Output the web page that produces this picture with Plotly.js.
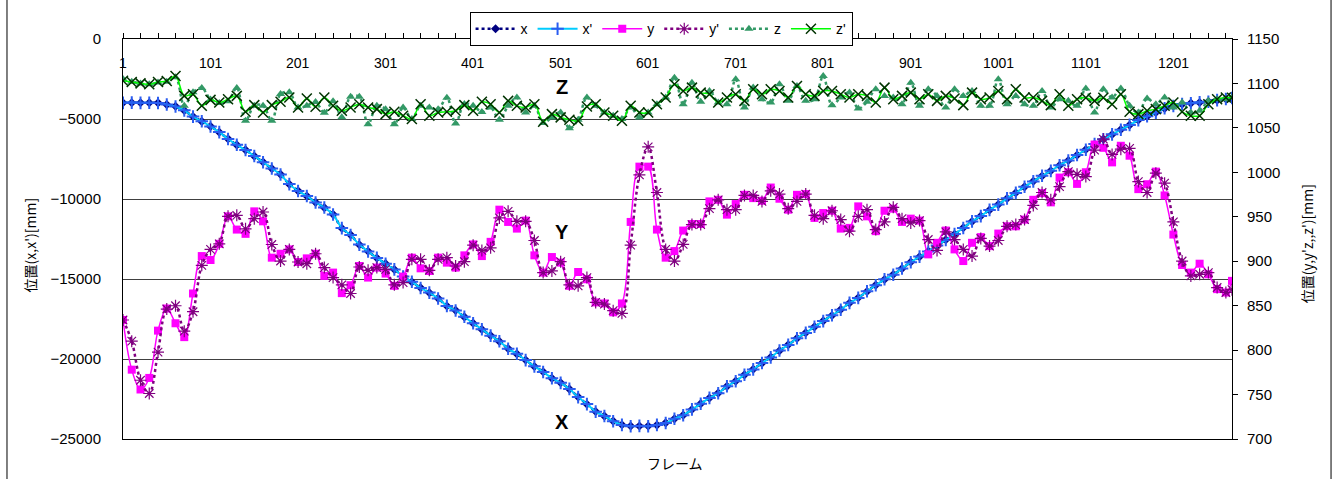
<!DOCTYPE html>
<html>
<head>
<meta charset="utf-8">
<script src="https://cdn.plot.ly/plotly-3.0.1.min.js"></script>
<style>
html,body{margin:0;padding:0;background:#fff;}
#chart{width:1335px;height:479px;}
</style>
</head>
<body>
<div id="chart"></div>
<script>
// frame numbers (category positions)
const frames = [];
for (let f = 1; f <= 1261; f += 10) frames.push(f);
frames.push(1268);

const xTickVals = [1, 101, 201, 301, 401, 501, 601, 701, 801, 901, 1001, 1101, 1201];
const xTickText = ["1", "101", "201", "301", "401", "501", "601", "701", "801", "901", "1001", "1101", "1201"];

// left axis series
const xVals = [
  -3980, -3980, -3985, -3985, -3990, -4100, -4200, -4470, -4840, -5150,
  -5460, -5830, -6240, -6620, -6930, -7320, -7690, -8100, -8460, -9080,
  -9490, -9820, -10210, -10540, -10960, -11830, -12240, -12860, -13270, -13690,
  -14040, -14410, -14830, -15180, -15550, -15860, -16210, -16690,
  -16960, -17370, -17760, -18150, -18530, -18900, -19350, -19680, -20060, -20470,
  -20800, -21210, -21480, -21880, -22370, -22830, -23280, -23570, -23880, -24110,
  -24190, -24190, -24190, -24130, -23990, -23740, -23510, -23160, -22790, -22440,
  -22130, -21710, -21380, -20990, -20640, -20260, -19890, -19480, -19110, -18710,
  -18360, -17990, -17620, -17280, -16910, -16500, -16170, -15780, -15380, -15030,
  -14720, -14350, -13940, -13610, -13270, -12920, -12550, -12200, -11800, -11410,
  -11060, -10690, -10340, -9970, -9610, -9240, -8890, -8560, -8230, -7900,
  -7590, -7260, -6910, -6580, -6260, -5970, -5660, -5380, -5060, -4840,
  -4590, -4340, -4180, -4070, -4010, -3970, -3910, -3830, -3740, -3700
];
const xPrimeVals = [
  -3990, -3975, -3990, -3980, -4000, -4090, -4220, -4460, -4850, -5140,
  -5470, -5820, -6250, -6610, -6940, -7310, -7700, -8090, -8470, -9070,
  -9500, -9810, -10220, -10530, -10970, -11820, -12250, -12850, -13280, -13680,
  -14050, -14400, -14840, -15170, -15560, -15850, -16220, -16680,
  -16970, -17360, -17770, -18140, -18540, -18890, -19360, -19670, -20070, -20460,
  -20810, -21200, -21490, -21870, -22380, -22820, -23290, -23560, -23890, -24120,
  -24200, -24180, -24200, -24120, -24000, -23730, -23520, -23150, -22800, -22430,
  -22140, -21700, -21390, -20980, -20650, -20250, -19900, -19470, -19120, -18700,
  -18370, -17980, -17630, -17270, -16920, -16490, -16180, -15770, -15390, -15020,
  -14730, -14340, -13950, -13600, -13280, -12910, -12560, -12190, -11810, -11400,
  -11070, -10680, -10350, -9960, -9620, -9230, -8900, -8550, -8240, -7890,
  -7600, -7250, -6920, -6570, -6270, -5960, -5670, -5370, -5070, -4830,
  -4600, -4330, -4190, -4060, -4020, -3960, -3920, -3820, -3750, -3690
];

// right axis series
const yVals = [
  833.9, 778, 755.7, 768.7, 821.9, 846.8, 830.2, 814.6, 863.7, 905.8,
  901.4, 919.6, 950.5, 935.6, 930.8, 956.1, 944.9, 904, 908.4, 913.3,
  899.1, 903.2, 908.4, 883.5, 887.2, 864.1, 873, 894.6, 881.6, 892.8,
  886.1, 872.3, 882.7,
  904, 892, 889, 904, 898.4, 892.8, 906.6, 918.9, 905.8, 921.8,
  958, 944.2, 936.7, 945.7, 906.6, 887.2, 904.7, 898.4, 872.3, 887.9,
  879.7, 853.7, 852.5, 842.5, 852.5, 944.2, 1006.4, 1006.4, 935.6, 904,
  911.4, 934.5,
  941.9, 941.9, 967.3, 969.1, 952.4, 964.3, 974.7, 971, 968, 982.9,
  970.3, 958, 974.7, 975.5, 948.7, 954.2, 956.8, 936.7, 937.5, 961.7,
  950.5, 933.8, 956.8, 959.1, 944.2, 947.9, 945.7, 907.7, 920.7, 934.5,
  913.3, 900.2,
  920.7, 927.1, 917, 931.1, 939.3, 939.3, 946.8, 969.1, 976.6, 966.2,
  994.1, 1000.1, 987, 1000.1, 1031.3, 1027.6, 1011.2, 1029.9, 1018.7, 981.1,
  986.6, 1000.8, 974, 930, 895.8, 887.2, 897.2, 885.3, 868.6, 864.8,
  877.9
];
const yPrimeVals = [
  833.9, 810.1, 766.1, 751.2, 797.8, 846.2, 849.9, 821.3, 843.2, 895.4,
  913.3, 919.6, 950.5, 951.6, 936.4, 947.9, 955.4, 918.8, 900.2, 913.3,
  899.1, 897.2, 908.4, 892.8, 881.6, 873.4, 863.7, 893.5, 889.8, 892.8,
  890.9, 873.4, 876,
  902.1, 902.1, 889.8, 902.1, 904, 894.6, 899.5, 918.1, 912.2, 915.1,
  948.7, 956.1, 944.9, 944.9, 923.3, 887.2, 889.1, 899.5, 873.4, 872.3,
  881.6, 853.7, 851.8, 844.4, 841.4, 918.1, 997.1, 1028.7, 977.3, 913.3,
  900.2, 918.9,
  941.2, 941.2, 959.1, 969.1, 958, 958, 974, 974, 967.3, 979.2,
  975.5, 959.1, 967.3, 975.5, 951.6, 947.9, 956.8, 946.8, 933.8, 950.5,
  958, 935.6, 944.2, 960.6, 947.9, 943.1, 945.7, 924.4, 912.2, 933,
  924.4, 913.3,
  905.8, 925.6, 917, 923.3, 939.3, 941.2, 946.8, 962.8, 977.3, 969.1,
  984, 1000.8, 997.8, 995.2, 1025, 1037.3, 1020.2, 1026.1, 1026.9, 989.6,
  977.3, 999, 987.8, 944.2, 900.2, 883.5, 885.3, 887.2, 870.4, 864.8,
  868
];
const zVals = [
  1105, 1102, 1100, 1099, 1101, 1102, 1107, 1075, 1090, 1095,
  1082, 1078, 1080, 1095, 1058, 1075, 1075, 1058, 1088, 1090,
  1073, 1075, 1079, 1067, 1080, 1062, 1085, 1085, 1054, 1075,
  1071, 1054, 1073, 1060, 1075, 1073, 1071, 1084, 1055, 1077,
  1075, 1068, 1073,
  1059.2, 1074.8, 1084.1, 1067.4, 1074.8, 1055.5, 1061.8, 1067.4, 1049.5, 1059.2,
  1084.1, 1074.8, 1067.4, 1063.7, 1059.9, 1073, 1061.8, 1067.4, 1076.7, 1084.1,
  1106.5, 1076.7, 1100.9, 1079.3, 1091.6, 1078.5, 1076.7, 1104.6, 1073, 1095.3,
  1082.3, 1078.5, 1099, 1080.4, 1097.1, 1080.4, 1082.3, 1108.3, 1075.6, 1084.1,
  1089.7, 1071.8, 1079.3,
  1093.4, 1086, 1084.1, 1076.7, 1100.9, 1074.8, 1093.4, 1086, 1073, 1093.4,
  1086, 1091.6, 1074.8, 1074.8, 1104.6, 1076.7, 1086, 1076.7, 1074.8, 1091.6,
  1073, 1082.3, 1080.4, 1074.8, 1094.2, 1067.4, 1093.4, 1084.1, 1094.2, 1074.8,
  1067.4, 1083, 1076.7, 1084.1, 1073, 1078.5, 1067.4, 1069.2, 1080.4, 1082.3,
  1082.3, 1084
];
const zPrimeVals = [
  1103, 1101.6, 1100.1, 1099, 1101.6, 1102.7, 1108.3, 1086, 1087.8, 1074.8,
  1081.5, 1078.5, 1082.3, 1086, 1068.1, 1075.6, 1067.4, 1075.6, 1079.3, 1084.1,
  1073, 1083, 1073.7, 1084.1, 1074.8, 1069.2, 1073, 1076.7, 1073, 1071.1,
  1065.5, 1068.1, 1063.7, 1059.9, 1076.7, 1063.7, 1067.4, 1068.1, 1069.2, 1075.6,
  1069.2, 1079.3, 1076.7,
  1067.4, 1080.4, 1074.8, 1073, 1076.7, 1057, 1065.5, 1061.8, 1059.2, 1058,
  1074.1, 1076.7, 1067.4, 1063.7, 1058, 1074.8, 1067.4, 1067.4, 1076.7, 1084.1,
  1099, 1091.6, 1095.3, 1089.7, 1087.8, 1078.5, 1084.1, 1087.8, 1080.4, 1093.4,
  1087.8, 1093.4, 1091.6, 1084.1, 1097.1, 1087.8, 1086, 1091.6, 1091.6, 1087.8,
  1084.1, 1087.8, 1086,
  1078.5, 1095.3, 1082.3, 1086, 1089.7, 1082.3, 1087.8, 1080.4, 1086, 1083,
  1075.6, 1089.7, 1082.3, 1084.1, 1091.6, 1082.3, 1093.4, 1084.1, 1084.1, 1080.4,
  1075.6, 1087.8, 1074.8, 1082.3, 1084, 1080.4, 1084, 1076.7, 1087.8, 1068.1,
  1065.5, 1069.2, 1071.1, 1074.8, 1078.5, 1068.1, 1063.7, 1063.7, 1076.7, 1082.3,
  1084.1, 1084
];

const seriesNames = ["x", "x'", "y", "y'", "z", "z'"];
const leftTitle = "位置(x,x')[mm]";
const rightTitle = "位置(y,y'z,,z')[mm]";
const xTitle = "フレーム";
const curveLabels = ["Z", "Y", "X"];

const tickFont = {family: "Liberation Sans, Arial, sans-serif", size: 15, color: "#000"};
const xTickFont = {family: "Liberation Sans, Arial, sans-serif", size: 14, color: "#000"};
const cjkFont = {family: "Noto Sans CJK JP, sans-serif", size: 14, color: "#000"};
const boldFont = {family: "Liberation Sans, Arial, sans-serif", size: 20, color: "#000", weight: "bold"};

const traces = [
  {x: frames, y: xVals, name: seriesNames[0], yaxis: "y", mode: "lines+markers",
   line: {color: "#000080", width: 2.5, dash: "dot", shape: "spline"},
   marker: {symbol: "diamond", size: 7, color: "#000080"}},
  {x: frames, y: xPrimeVals, name: seriesNames[1], yaxis: "y", mode: "lines+markers",
   line: {color: "#00ccff", width: 2, shape: "spline"},
   marker: {symbol: "cross-thin-open", size: 9, color: "#2a5cf0", line: {width: 2}}},
  {x: frames, y: yVals, name: seriesNames[2], yaxis: "y2", mode: "lines+markers",
   line: {color: "#ff00ff", width: 1.5, shape: "spline"},
   marker: {symbol: "square", size: 8, color: "#ff00ff"}},
  {x: frames, y: yPrimeVals, name: seriesNames[3], yaxis: "y2", mode: "lines+markers",
   line: {color: "#800080", width: 2.5, dash: "dot", shape: "spline"},
   marker: {symbol: "asterisk-open", size: 10, color: "#800080", line: {width: 1.2}}},
  {x: frames, y: zVals, name: seriesNames[4], yaxis: "y2", mode: "lines+markers",
   line: {color: "#339966", width: 2.5, dash: "dot", shape: "spline"},
   marker: {symbol: "triangle-up", size: 8, color: "#339966"}},
  {x: frames, y: zPrimeVals, name: seriesNames[5], yaxis: "y2", mode: "lines+markers",
   line: {color: "#00ff00", width: 1.5, shape: "spline"},
   marker: {symbol: "x-thin-open", size: 10, color: "#003300", line: {width: 1.5}}}
];

const annotations = [];
xTickVals.forEach((v, i) => {
  annotations.push({text: xTickText[i], xref: "x", yref: "paper", x: v, y: 0.9404,
    showarrow: false, xanchor: "center", yanchor: "middle", font: xTickFont});
});
annotations.push(
  {text: curveLabels[0], xref: "paper", yref: "paper", x: 0.396, y: 0.881, xanchor: "center", yanchor: "middle", showarrow: false, font: boldFont},
  {text: curveLabels[1], xref: "paper", yref: "paper", x: 0.396, y: 0.5186, xanchor: "center", yanchor: "middle", showarrow: false, font: boldFont},
  {text: curveLabels[2], xref: "paper", yref: "paper", x: 0.396, y: 0.042, xanchor: "center", yanchor: "middle", showarrow: false, font: boldFont},
  {text: xTitle, xref: "paper", yref: "paper", x: 0.4977, y: -0.0596, xanchor: "center", yanchor: "middle", showarrow: false, font: cjkFont},
  {text: leftTitle, xref: "paper", yref: "paper", x: -0.0843, y: 0.485, xanchor: "center", yanchor: "middle", textangle: -90, showarrow: false, font: cjkFont},
  {text: rightTitle, xref: "paper", yref: "paper", x: 1.0676, y: 0.489, xanchor: "center", yanchor: "middle", textangle: -90, showarrow: false, font: cjkFont}
);

const layout = {
  width: 1335, height: 479,
  margin: {l: 123, r: 103, t: 36, b: 40, pad: 0},
  paper_bgcolor: "#fff", plot_bgcolor: "#fff",
  showlegend: true,
  legend: {
    orientation: "h", x: 0.3125, xanchor: "left", y: 1.067, yanchor: "top",
    bgcolor: "#fff", bordercolor: "#000", borderwidth: 1,
    font: {family: "Liberation Sans, Arial, sans-serif", size: 14, color: "#000"},
    itemwidth: 40, tracegroupgap: 0
  },
  xaxis: {
    range: [1, 1268], side: "top", showgrid: false, zeroline: false,
    showline: true, linecolor: "#000", linewidth: 1, mirror: true,
    tickmode: "array", tickvals: xTickVals, showticklabels: false,
    ticks: "outside", ticklen: 5, tickcolor: "#000",
    minor: {tick0: 1, dtick: 20, ticks: "outside", ticklen: 5, tickcolor: "#000", showgrid: false}
  },
  yaxis: {
    range: [-25000, 0], dtick: 5000, tick0: 0, tickformat: "d",
    showgrid: true, gridcolor: "#404040", gridwidth: 1, zeroline: false,
    showline: true, linecolor: "#000", linewidth: 1,
    ticks: "", ticklabelstandoff: 18, tickfont: tickFont
  },
  yaxis2: {
    range: [700, 1150], dtick: 50, tick0: 700, overlaying: "y", side: "right",
    showgrid: false, zeroline: false, showline: true, linecolor: "#000", linewidth: 1,
    ticks: "outside", ticklen: 5, tickcolor: "#000", ticklabelstandoff: 6, tickfont: tickFont
  },
  annotations: annotations,
  shapes: [
    {type: "line", xref: "paper", yref: "paper", x0: -0.1046, x1: -0.1046, y0: -0.2, y1: 1.2, line: {color: "#000", width: 1}},
    {type: "line", xref: "paper", yref: "paper", x0: 1.0893, x1: 1.0893, y0: -0.2, y1: 1.2, line: {color: "#000", width: 1}}
  ]
};

Plotly.newPlot("chart", traces, layout, {displayModeBar: false, staticPlot: true});
</script>
</body>
</html>
